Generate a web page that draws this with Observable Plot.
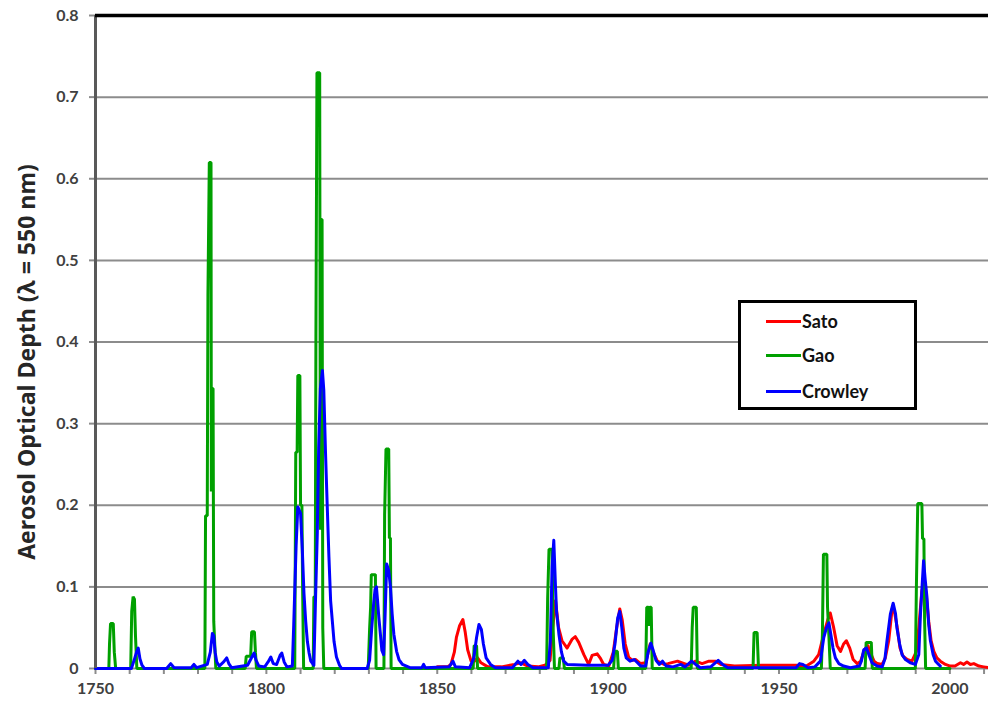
<!DOCTYPE html>
<html>
<head>
<meta charset="utf-8">
<script src="https://cdn.jsdelivr.net/npm/d3@7"></script>
<script src="https://cdn.jsdelivr.net/npm/@observablehq/plot@0.6"></script>
<style>
  html, body { margin: 0; padding: 0; background: #fff; }
  #wrap { position: relative; width: 988px; height: 709px; font-family: Lato, "Open Sans", sans-serif; }
  #legend { position: absolute; left: 738px; top: 300px; width: 179px; height: 110px; box-sizing: border-box;
            border: 3px solid #000; background: #fff; }
  .item { position: absolute; left: 25px; height: 20px; display: flex; align-items: center; }
  .item span.sw { display: inline-block; width: 35px; height: 3px; }
  .item span.lb { font-weight: 700; font-size: 18px; color: #111; margin-left: 1px; }
</style>
</head>
<body>
<div id="wrap">
  <div id="chart"></div>
  <div id="legend">
    <div class="item" style="top:8px"><span class="sw" style="background:#ff0000"></span><span class="lb">Sato</span></div>
    <div class="item" style="top:42px"><span class="sw" style="background:#00a000"></span><span class="lb">Gao</span></div>
    <div class="item" style="top:78px"><span class="sw" style="background:#0000ff"></span><span class="lb">Crowley</span></div>
  </div>
</div>
<script>
// Series: [year, aerosol optical depth at 550 nm]
const sato = [
  [1850,0.002],[1853,0.002],[1854,0.005],[1855,0.02],[1855.6,0.038],[1856.5,0.052],[1857.5,0.06],[1858.2,0.044],
  [1858.9,0.023],[1859.9,0.009],[1860.9,0.009],[1861.8,0.013],[1862.8,0.007],[1864.8,0.002],[1868.8,0.002],
  [1872.6,0.005],[1874.5,0.007],[1876.5,0.003],[1879.5,0.002],[1881.5,0.004],[1883,0.01],[1883.8,0.05],
  [1884.6,0.083],[1885.5,0.05],[1886.5,0.034],[1888,0.025],[1889.5,0.036],[1890.4,0.039],[1891.4,0.032],
  [1892.9,0.017],[1894.3,0.005],[1895.3,0.016],[1896.8,0.018],[1897.8,0.012],[1898.7,0.005],[1900.2,0.003],
  [1901.5,0.02],[1902.5,0.05],[1903.4,0.073],[1904.1,0.06],[1905,0.03],[1906,0.014],[1907,0.01],[1908,0.011],
  [1909.5,0.006],[1911,0.007],[1912.3,0.03],[1913.2,0.02],[1914.4,0.009],[1916.4,0.005],[1917.5,0.006],
  [1920.3,0.009],[1922.3,0.006],[1923.6,0.004],[1925.6,0.009],[1927.5,0.006],[1929.5,0.009],[1931.5,0.009],
  [1933,0.005],[1937,0.003],[1945,0.004],[1950,0.004],[1955,0.004],[1958,0.003],[1960.2,0.009],[1961.6,0.017],
  [1963.1,0.042],[1964.3,0.06],[1965,0.068],[1966,0.05],[1967,0.028],[1968,0.021],[1968.9,0.03],[1969.7,0.034],
  [1970.7,0.025],[1971.7,0.011],[1972.9,0.006],[1973.9,0.009],[1975,0.023],[1976,0.028],[1976.8,0.019],
  [1977.8,0.009],[1978.8,0.006],[1980.2,0.005],[1981.1,0.013],[1982.1,0.034],[1983.1,0.073],[1983.8,0.069],
  [1984.6,0.05],[1985.4,0.025],[1986.3,0.015],[1987.5,0.011],[1988.9,0.009],[1990.2,0.021],[1990.9,0.05],
  [1991.8,0.095],[1992.5,0.108],[1993.1,0.09],[1993.8,0.058],[1994.5,0.034],[1995.3,0.021],[1996.2,0.013],
  [1997.2,0.009],[1998.7,0.005],[2000.1,0.003],[2001.5,0.003],[2003.1,0.007],[2004,0.005],[2005,0.008],
  [2006,0.005],[2007,0.006],[2008.5,0.003],[2009.9,0.002],[2011.3,0.001]
];

const gao = [
  [1750,0],[1753.9,0],[1754.1,0.03],[1754.4,0.055],[1755.2,0.055],[1755.5,0.02],[1755.9,0],
  [1760.3,0],[1760.6,0.07],[1761.0,0.088],[1761.4,0.085],[1761.7,0.04],[1762.1,0],
  [1782.0,0],[1782.2,0.187],[1782.7,0.187],[1782.9,0.457],[1783.3,0.62],[1783.8,0.62],[1783.9,0.217],
  [1784.1,0.343],[1784.4,0.343],[1784.6,0.058],[1785.2,0],
  [1793.8,0],[1794.1,0.015],[1795.4,0.015],[1795.7,0.045],[1796.5,0.045],[1796.8,0.02],[1797.1,0],
  [1808.3,0],[1808.6,0.265],[1809.0,0.265],[1809.2,0.359],[1809.8,0.359],[1810.0,0.2],[1810.4,0.2],[1810.6,0.1],[1810.9,0],
  [1813.7,0],[1813.9,0.088],[1814.3,0.088],[1814.5,0.41],[1814.8,0.73],[1815.6,0.73],[1815.8,0.17],[1816.0,0.55],
  [1816.3,0.55],[1816.5,0.05],[1816.8,0],
  [1829.8,0],[1830.2,0.048],[1830.5,0.075],[1830.7,0.115],[1831.9,0.115],[1832.1,0],
  [1834.4,0],[1834.6,0.188],[1835.0,0.269],[1835.8,0.269],[1836.0,0.16],[1836.3,0.16],[1836.5,0],
  [1860.5,0],[1860.8,0.028],[1861.5,0.028],[1861.8,0],
  [1882.0,0],[1882.3,0.085],[1882.7,0.146],[1883.6,0.146],[1883.9,0.05],[1884.3,0],
  [1885.6,0],[1885.9,0.013],[1886.9,0.013],[1887.2,0],
  [1901.6,0],[1901.9,0.021],[1902.7,0.021],[1903.0,0],
  [1911.0,0],[1911.3,0.075],[1911.8,0.075],[1912.0,0.052],[1912.2,0.075],[1912.6,0.075],[1912.9,0],
  [1924.3,0],[1924.6,0.05],[1924.9,0.075],[1925.8,0.075],[1926.1,0],
  [1942.4,0],[1942.7,0.044],[1943.6,0.044],[1944.0,0],
  [1962.4,0],[1962.7,0.042],[1963.0,0.14],[1964.0,0.14],[1964.2,0.075],[1964.6,0.04],[1965.0,0],
  [1975.2,0],[1975.5,0.032],[1977.0,0.032],[1977.3,0],
  [1989.9,0],[1990.2,0.1],[1990.6,0.202],[1991.8,0.202],[1992.0,0.159],[1992.4,0.159],[1992.6,0.06],[1992.9,0],
  [2000,0]
];

const crowley = [
  [1750,0],[1760.5,0],[1761.3,0.01],[1762.0,0.02],[1762.5,0.025],[1763,0.012],[1763.6,0.004],[1764.3,0],
  [1770.8,0],[1772,0.006],[1773,0.001],[1778,0.001],[1778.8,0.005],[1779.6,0.001],
  [1782.7,0.005],[1783.6,0.02],[1784.2,0.043],[1784.6,0.04],[1785.0,0.02],[1785.5,0.008],[1786.2,0.003],
  [1787.5,0.008],[1788.4,0.013],[1789,0.006],[1789.8,0.001],
  [1794.5,0.004],[1795.5,0.012],[1796.4,0.019],[1797,0.01],[1797.8,0.003],[1799.5,0.002],[1800.5,0.008],
  [1801.3,0.014],[1802,0.006],[1803,0.005],[1804,0.016],[1804.5,0.019],[1805.2,0.008],[1806,0.002],
  [1807.6,0.003],[1808.0,0.053],[1808.7,0.15],[1809.2,0.198],[1810.0,0.19],[1810.5,0.147],[1811.0,0.092],
  [1811.5,0.058],[1812.0,0.033],[1812.5,0.019],[1813.0,0.009],[1813.9,0.004],[1814.4,0.088],[1814.9,0.166],
  [1815.3,0.27],[1815.8,0.343],[1816.4,0.365],[1816.8,0.341],[1817.3,0.265],[1817.8,0.2],[1818.3,0.137],
  [1818.8,0.083],[1819.3,0.058],[1819.8,0.033],[1820.5,0.014],[1821.4,0.004],[1822,0],
  [1829.5,0],[1830.2,0.01],[1830.8,0.048],[1831.4,0.08],[1831.8,0.097],[1832.2,0.1],[1832.5,0.085],
  [1832.9,0.063],[1833.3,0.045],[1833.8,0.022],[1834.3,0.017],[1834.7,0.06],[1835.2,0.128],[1835.8,0.12],
  [1836.3,0.1],[1836.8,0.067],[1837.3,0.042],[1838.1,0.021],[1838.8,0.011],[1839.8,0.005],[1842,0.001],
  [1845.5,0.001],[1846,0.005],[1846.5,0.001],[1853.5,0.002],[1854.6,0.009],[1855.3,0.002],
  [1859.5,0.001],[1860.7,0.013],[1861.5,0.038],[1862.2,0.054],[1862.9,0.048],[1863.5,0.03],[1864.3,0.013],
  [1865.6,0.005],[1867,0.001],[1872,0.001],[1873.6,0.009],[1874.5,0.005],[1875.5,0.01],[1876.5,0.005],
  [1878,0.001],[1882.5,0.001],[1883.1,0.034],[1883.6,0.124],[1884.1,0.157],[1884.6,0.1],[1884.9,0.07],
  [1885.6,0.042],[1886.3,0.021],[1887,0.009],[1888,0.005],[1894,0.004],[1900,0.004],[1901.2,0.01],
  [1902.0,0.03],[1902.8,0.062],[1903.4,0.07],[1904.0,0.05],[1904.6,0.025],[1905.3,0.013],[1906.4,0.009],
  [1907.6,0.011],[1908.6,0.007],[1909.5,0.003],[1911,0.003],[1911.7,0.02],[1912.5,0.031],[1913.2,0.022],
  [1914,0.01],[1915,0.005],[1915.9,0.009],[1917,0.003],[1919,0.002],[1921.2,0.005],[1922.5,0.002],
  [1924.4,0.009],[1925.6,0.005],[1927,0.001],[1930,0.002],[1932.2,0.01],[1933.5,0.005],[1935,0.001],
  [1955,0.001],[1956,0.006],[1957,0.005],[1958.5,0.001],[1960.5,0.002],[1962.1,0.009],[1963.1,0.038],
  [1963.9,0.05],[1964.6,0.056],[1965.0,0.046],[1965.8,0.025],[1966.5,0.013],[1967.5,0.006],[1968.9,0.003],
  [1970.9,0.001],[1973.5,0.003],[1974.1,0.009],[1974.8,0.023],[1975.6,0.025],[1976.3,0.017],[1977.2,0.007],
  [1978.7,0.003],[1980.2,0.002],[1981.0,0.012],[1981.6,0.034],[1982.6,0.067],[1983.4,0.08],[1984.1,0.067],
  [1984.5,0.05],[1985.3,0.03],[1986,0.017],[1987,0.011],[1988.4,0.007],[1989.9,0.005],[1990.9,0.017],
  [1991.4,0.067],[1991.9,0.103],[1992.3,0.132],[1992.8,0.108],[1993.3,0.087],[1993.8,0.054],[1994.3,0.034],
  [1995.1,0.017],[1995.8,0.009],[1996.7,0.005],[1997.2,0.003]
];

const xMinorTicks = d3.range(1750, 2011, 10);
const xLabelTicks = [1750, 1800, 1850, 1900, 1950, 2000];
const yTicks = [0, 0.1, 0.2, 0.3, 0.4, 0.5, 0.6, 0.7, 0.8];
const yTitle = "Aerosol Optical Depth (λ = 550 nm)";

const toRows = (arr) => arr.map(([year, aod]) => ({year, aod}));

const chart = Plot.plot({
  width: 988,
  height: 709,
  marginLeft: 95,
  marginRight: 0,
  marginTop: 15,
  marginBottom: 41,
  style: {fontFamily: "Lato, 'Open Sans', sans-serif", background: "#fff"},
  x: {domain: [1750, 2011.3]},
  y: {domain: [0, 0.8]},
  marks: [
    Plot.gridY(yTicks.filter(d => d > 0 && d < 0.8), {stroke: "#8c8c8c", strokeWidth: 2, strokeOpacity: 1}),
    Plot.ruleY([0], {stroke: "#8c8c8c", strokeWidth: 2}),
    Plot.axisX(xMinorTicks, {tickSize: 6, stroke: "#8c8c8c", strokeWidth: 2, tickFormat: () => "", label: null}),
    Plot.axisX(xLabelTicks, {tickSize: 0, tickPadding: 14, fontSize: 16, fontWeight: "bold", fill: "#404040",
      tickFormat: d => String(d), label: null}),
    Plot.axisY(yTicks, {tickSize: 6, tickPadding: 11, stroke: "#8c8c8c", strokeWidth: 2, fontSize: 16, fontWeight: "bold",
      fill: "#404040", tickFormat: d => d === 0 ? "0" : d.toFixed(1), label: null}),
    Plot.line(toRows(sato), {x: "year", y: "aod", stroke: "#ff0000", strokeWidth: 3, strokeLinejoin: "round"}),
    Plot.line(toRows(gao), {x: "year", y: "aod", stroke: "#00a000", strokeWidth: 3, strokeLinejoin: "miter"}),
    Plot.line(toRows(crowley), {x: "year", y: "aod", stroke: "#0000ff", strokeWidth: 3, strokeLinejoin: "round"}),
    Plot.ruleX([1750], {stroke: "#595959", strokeWidth: 3}),
    Plot.ruleY([0.8], {stroke: "#000", strokeWidth: 3.5}),
    Plot.text([yTitle], {
      frameAnchor: "left", dx: -68, dy: 20, rotate: -90, textAnchor: "middle",
      fontSize: 23, fontWeight: "bold", fontFamily: "'Open Sans', sans-serif", fill: "#262626", text: d => d
    })
  ]
});
document.getElementById("chart").appendChild(chart);
</script>
</body>
</html>
